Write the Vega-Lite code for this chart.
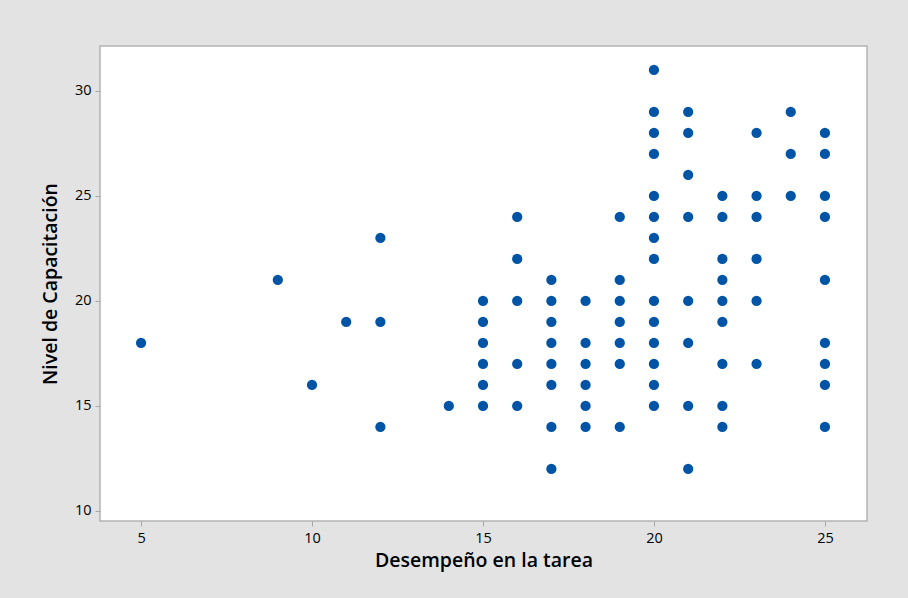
{
  "$schema": "https://vega.github.io/schema/vega-lite/v6.json",
  "width": 767,
  "height": 475,
  "autosize": {"type": "none"},
  "padding": {"left": 100, "top": 46, "right": 41, "bottom": 77},
  "background": "#e3e3e3",
  "view": {"fill": "white", "stroke": "#b4b4b4", "strokeWidth": 1.5},
  "config": {
    "font": "Open Sans",
    "axis": {
      "domain": false,
      "grid": false,
      "tickColor": "#a8a8a8",
      "tickSize": 5,
      "labelFont": "Open Sans",
      "labelFontSize": 14.5,
      "labelFontWeight": 500,
      "labelColor": "#000000",
      "titleFont": "Open Sans",
      "titleFontSize": 19.5,
      "titleFontWeight": 600,
      "titleColor": "#000000"
    }
  },
  "data": {
    "values": [
      {"x": 5, "y": 18},
      {"x": 9, "y": 21},
      {"x": 10, "y": 16},
      {"x": 11, "y": 19},
      {"x": 12, "y": 23}, {"x": 12, "y": 19}, {"x": 12, "y": 14},
      {"x": 14, "y": 15},
      {"x": 15, "y": 20}, {"x": 15, "y": 19}, {"x": 15, "y": 18}, {"x": 15, "y": 17}, {"x": 15, "y": 16}, {"x": 15, "y": 15},
      {"x": 16, "y": 24}, {"x": 16, "y": 22}, {"x": 16, "y": 20}, {"x": 16, "y": 17}, {"x": 16, "y": 15},
      {"x": 17, "y": 21}, {"x": 17, "y": 20}, {"x": 17, "y": 19}, {"x": 17, "y": 18}, {"x": 17, "y": 17}, {"x": 17, "y": 16}, {"x": 17, "y": 14}, {"x": 17, "y": 12},
      {"x": 18, "y": 20}, {"x": 18, "y": 18}, {"x": 18, "y": 17}, {"x": 18, "y": 16}, {"x": 18, "y": 15}, {"x": 18, "y": 14},
      {"x": 19, "y": 24}, {"x": 19, "y": 21}, {"x": 19, "y": 20}, {"x": 19, "y": 19}, {"x": 19, "y": 18}, {"x": 19, "y": 17}, {"x": 19, "y": 14},
      {"x": 20, "y": 31}, {"x": 20, "y": 29}, {"x": 20, "y": 28}, {"x": 20, "y": 27}, {"x": 20, "y": 25}, {"x": 20, "y": 24}, {"x": 20, "y": 23}, {"x": 20, "y": 22}, {"x": 20, "y": 20}, {"x": 20, "y": 19}, {"x": 20, "y": 18}, {"x": 20, "y": 17}, {"x": 20, "y": 16}, {"x": 20, "y": 15},
      {"x": 21, "y": 29}, {"x": 21, "y": 28}, {"x": 21, "y": 26}, {"x": 21, "y": 24}, {"x": 21, "y": 20}, {"x": 21, "y": 18}, {"x": 21, "y": 15}, {"x": 21, "y": 12},
      {"x": 22, "y": 25}, {"x": 22, "y": 24}, {"x": 22, "y": 22}, {"x": 22, "y": 21}, {"x": 22, "y": 20}, {"x": 22, "y": 19}, {"x": 22, "y": 17}, {"x": 22, "y": 15}, {"x": 22, "y": 14},
      {"x": 23, "y": 28}, {"x": 23, "y": 25}, {"x": 23, "y": 24}, {"x": 23, "y": 22}, {"x": 23, "y": 20}, {"x": 23, "y": 17},
      {"x": 24, "y": 29}, {"x": 24, "y": 27}, {"x": 24, "y": 25},
      {"x": 25, "y": 28}, {"x": 25, "y": 27}, {"x": 25, "y": 25}, {"x": 25, "y": 24}, {"x": 25, "y": 21}, {"x": 25, "y": 18}, {"x": 25, "y": 17}, {"x": 25, "y": 16}, {"x": 25, "y": 14}
    ]
  },
  "mark": {"type": "point", "filled": true, "shape": "circle", "size": 105, "color": "#0054a6", "opacity": 1},
  "encoding": {
    "x": {
      "field": "x", "type": "quantitative",
      "scale": {"domain": [3.8, 26.23], "nice": false, "zero": false},
      "axis": {"values": [5, 10, 15, 20, 25], "title": "Desempeño en la tarea", "labelPadding": 5, "titlePadding": 7}
    },
    "y": {
      "field": "y", "type": "quantitative",
      "scale": {"domain": [9.52, 32.14], "nice": false, "zero": false},
      "axis": {"values": [10, 15, 20, 25, 30], "title": "Nivel de Capacitación", "labelPadding": 4, "titlePadding": 14}
    }
  }
}
